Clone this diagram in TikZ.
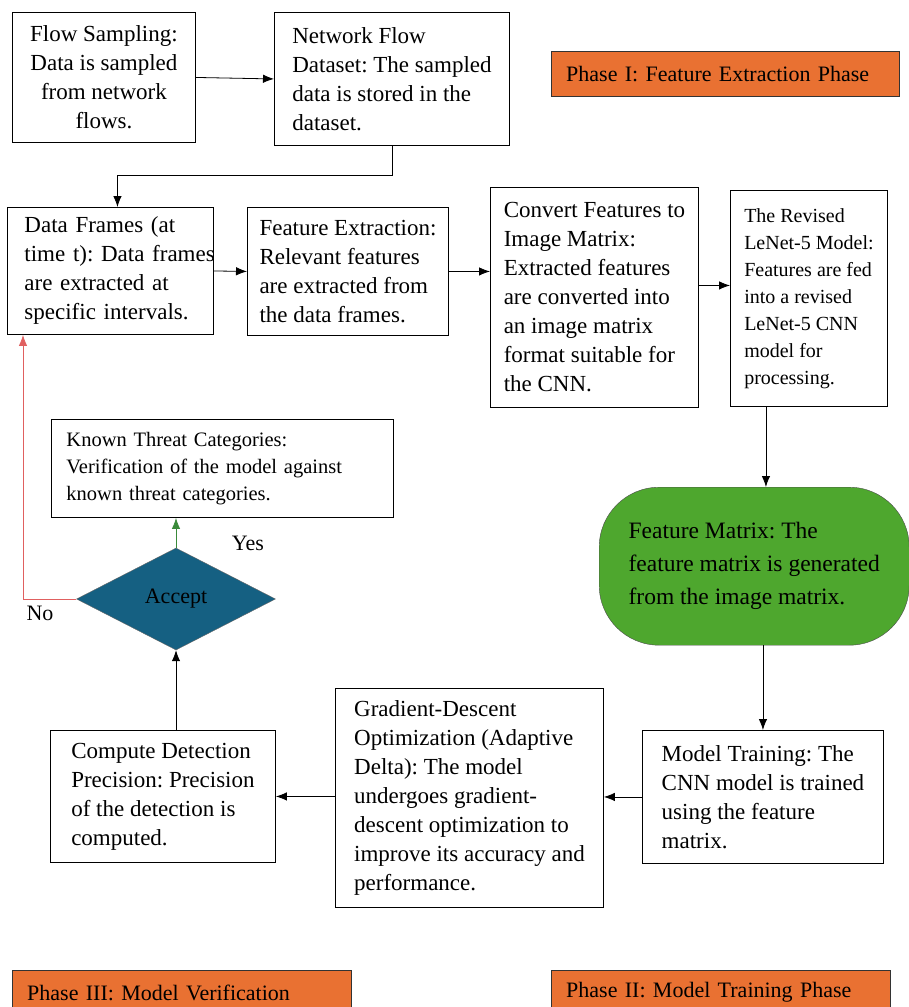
\documentclass[tikz,border=0pt]{standalone}
\usepackage{fontspec}
\setmainfont{Liberation Serif}
\usetikzlibrary{arrows.meta,shapes.geometric}
\definecolor{phaseorange}{HTML}{E97132}
\definecolor{matrixgreen}{HTML}{4EA72E}
\definecolor{acceptblue}{HTML}{156082}
\definecolor{noline}{HTML}{E06060}
\definecolor{yesline}{HTML}{3A8A3A}
\frenchspacing
\tikzset{
  box/.style={draw, line width=0.9pt, anchor=north west, align=left, inner sep=0pt,
    font=\fontsize{23}{29}\selectfont},
  phase/.style={draw=black!80, fill=phaseorange, anchor=north west, align=left,
    inner xsep=15pt, inner ysep=0pt, minimum height=45pt, font=\fontsize{22}{26}\selectfont},
  arr/.style={-{Latex[length=11pt,width=8.5pt]}, line width=0.8pt},
}
\begin{document}
\begin{tikzpicture}[x=1pt,y=-1pt]
  \clip (0,0) rectangle (909,1007);
  % phase I
  \node[box, align=center, minimum width=183pt, minimum height=130pt] (flow) at (12,12)
    {Flow Sampling:\\Data is sampled\\from network\\flows.};
  \node[box, minimum width=235pt, minimum height=133pt] (dataset) at (274,12)
    {Network Flow\\Dataset: The sampled\\data is stored in the\\dataset.};
  \node[box, inner xsep=17pt, text width=172pt, minimum height=127pt] (frames) at (7,207)
    {Data Frames (at\\\mbox{time t): Data frames}\\are extracted at\\specific intervals.};
  \node[box, minimum width=201pt, minimum height=128pt] (extract) at (247,207)
    {Feature Extraction:\\Relevant features\\are extracted from\\the data frames.};
  \node[box, minimum width=208pt, minimum height=220pt] (convert) at (490,187)
    {Convert Features to\\Image Matrix:\\Extracted features\\are converted into\\an image matrix\\format suitable for\\the CNN.};
  \node[box, minimum width=157pt, minimum height=216pt, font=\fontsize{20}{27}\selectfont] (lenet) at (730,190)
    {The Revised\\LeNet-5 Model:\\Features are fed\\into a revised\\LeNet-5 CNN\\model for\\processing.};
  \node[phase, text width=318pt] (phaseone) at (551,51) {Phase I: Feature Extraction Phase};

  % phase II
  \node[draw=black!70, fill=matrixgreen, rounded corners=60pt, anchor=north west, align=left,
    minimum width=310pt, minimum height=158pt, font=\fontsize{23.5}{33}\selectfont] (fmatrix) at (599,487)
    {Feature Matrix: The\\feature matrix is generated\\from the image matrix.};
  \node[box, minimum width=241pt, minimum height=133pt] (training) at (642,730)
    {Model Training: The\\CNN model is trained\\using the feature\\matrix.};
  \node[box, minimum width=268pt, minimum height=219pt] (gradient) at (335,688)
    {Gradient-Descent\\Optimization (Adaptive\\Delta): The model\\undergoes gradient-\\descent optimization to\\improve its accuracy and\\performance.};
  \node[phase, text width=309pt] (phasetwo) at (551,970) {Phase II: Model Training Phase};

  % phase III
  \node[box, minimum width=225pt, minimum height=132pt] (compute) at (50,730)
    {Compute Detection\\Precision: Precision\\of the detection is\\computed.};
  \node[diamond, draw=black!60, fill=acceptblue, minimum width=199pt, minimum height=102pt,
    inner sep=0pt, font=\fontsize{22}{26}\selectfont] (decide) at (176,599) {Accept};
  \node[box, inner xsep=15pt, text width=312pt, minimum height=98pt,
    font=\fontsize{20.5}{27}\selectfont] (known) at (51,419)
    {Known Threat Categories:\\Verification of the model against\\known threat categories.};
  \node[font=\fontsize{22}{26}\selectfont] (yes) at (248,543) {Yes};
  \node[font=\fontsize{22}{26}\selectfont] (no) at (40,613) {No};
  \node[phase, text width=309pt] (phasethree) at (12,970) {Phase III: Model Verification};

  % connectors
  \draw[arr] (flow.east) -- (dataset.west);
  \draw[arr] (dataset.south) -- ++(0,29) -| ([xshift=7pt]frames.north);
  \draw[arr] (frames.east) -- (extract.west);
  \draw[arr] (extract.east) -- (extract.east -| convert.west);
  \draw[arr] ([yshift=12pt]convert.east) -- ([yshift=12pt]convert.east -| lenet.west);
  \draw[arr] ([xshift=-43pt]lenet.south) -- ([xshift=-43pt]lenet.south |- fmatrix.north);
  \draw[arr] (training.north |- fmatrix.south) -- (training.north);
  \draw[arr] (training.west) -- (training.west -| gradient.east);
  \draw[arr] (compute.east -| gradient.west) -- (compute.east);
  \draw[arr] (decide.south |- compute.north) -- (decide.south);
  \draw[arr, yesline] (decide.north) -- (decide.north |- known.south);
  \draw[arr, noline] (decide.west) -| ([xshift=16pt]frames.south west);
\end{tikzpicture}
\end{document}
